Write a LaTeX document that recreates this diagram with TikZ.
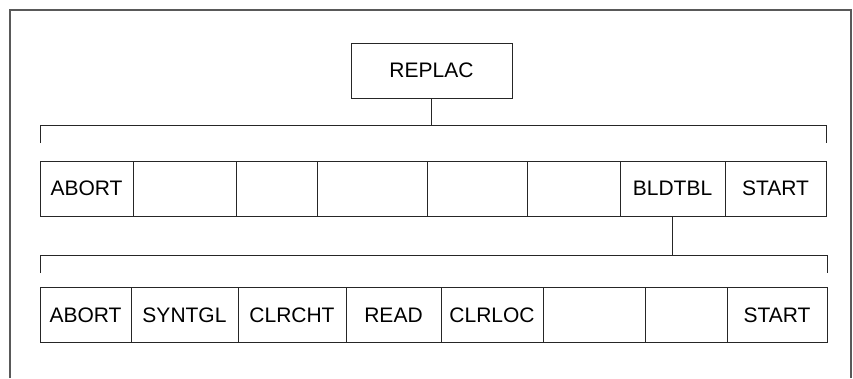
\documentclass[tikz,border=0pt]{standalone}
\usepackage{fontspec}
\setmainfont{Liberation Sans}
\usepackage{tikz}

\tikzset{
  cell/.style={draw=black!85,line width=1pt,inner sep=0pt,outer sep=0pt,
    font=\fontsize{21}{25}\selectfont},
  link/.style={draw=black!85,line width=1pt},
  frameline/.style={draw=black!65,line width=1.2pt}
}

\begin{document}
\begin{tikzpicture}[x=1pt,y=-1pt]
    \useasboundingbox (0,0) rectangle (853,378);
    % open frame
    \draw[frameline] (10,378) -- (10,10) -- (851,10) -- (851,378);
    % root
    \node[cell,minimum width=161pt,minimum height=55pt] (replac) at (431.5,70.5) {REPLAC};
    % first level
    \foreach \l/\r/\txt [count=\i] in {40/133/ABORT,133/236/{},236/317/{},317/427/{},
        427/527/{},527/620/{},620/725/BLDTBL,725/826/START}
      \node[cell,minimum width=(\r-\l)*1pt,minimum height=55pt] (top\i) at ({(\l+\r)/2},188.5) {\txt};
    \coordinate (bra) at (431.5,125.5);
    \draw[link] (replac.south) -- (bra);
    \draw[link] (40,143) -- (40,125.5) -- (826.5,125.5) -- (826.5,143);
    % second level
    \foreach \l/\r/\txt [count=\i] in {40/131/ABORT,131/238/SYNTGL,238/346/CLRCHT,346/441/READ,
        441/543/CLRLOC,543/645/{},645/727/{},727/827/START}
      \node[cell,minimum width=(\r-\l)*1pt,minimum height=55.5pt] (sub\i) at ({(\l+\r)/2},315) {\txt};
    \coordinate (brb) at (top7.south |- 0,255);
    \draw[link] (top7.south) -- (brb);
    \draw[link] (40,273) -- (40,255) -- (827,255) -- (827,273);
\end{tikzpicture}
\end{document}
